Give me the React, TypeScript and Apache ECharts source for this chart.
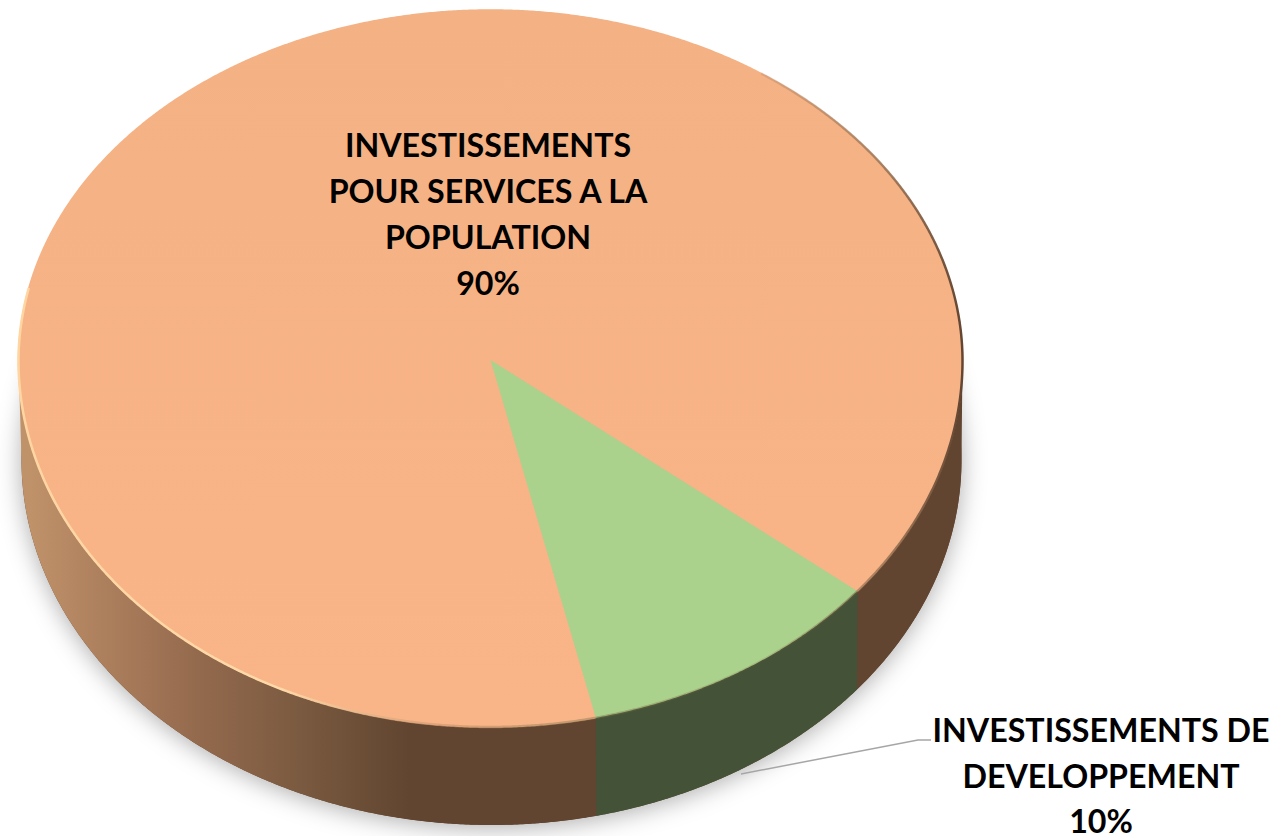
import React, { useEffect, useRef } from "react";
import * as echarts from "echarts";

const categories = ["INVESTISSEMENTS\nPOUR SERVICES A LA\nPOPULATION", "INVESTISSEMENTS DE\nDEVELOPPEMENT"];
const values = [90, 10];

const WIDTH = 1276;
const HEIGHT = 836;
const FIRST_ANGLE = 168.5;
const WARP = 3.55;
const STEP = 0.25;
const FONT = 'bold 32.2px Lato, "Open Sans", sans-serif';

const top = { cx: 490.5, cy: 361, rx: 472, ryUp: 351, ryDown: 366 };
const base = { cx: 491.5, cy: 460, rx: 470, ryUp: 365, ryDown: 365 };

const rad = (d: number) => (d * Math.PI) / 180;
const warp = (a: number) => a + WARP * Math.sin(rad(2 * a));
const onEllipse = (e: typeof top, phi: number): number[] => {
  const c = Math.cos(rad(phi));
  return [e.cx + e.rx * Math.sin(rad(phi)), e.cy - (c > 0 ? e.ryUp : e.ryDown) * c];
};
const isFront = (phi: number) => {
  const m = ((phi % 360) + 360) % 360;
  return m >= 90 && m <= 270;
};
const sweep = (from: number, to: number) => {
  const out: number[] = [];
  for (let a = from; a < to; a += STEP) out.push(a);
  out.push(to);
  return out;
};
const total = values.reduce((s, v) => s + v, 0);

const wallFills = [
  () =>
    new echarts.graphic.LinearGradient(
      30,
      0,
      410,
      0,
      [
        { offset: 0, color: "#c0926a" },
        { offset: 0.24, color: "#a87b5a" },
        { offset: 0.45, color: "#93694d" },
        { offset: 0.71, color: "#7a5a40" },
        { offset: 1, color: "#614530" },
      ],
      true
    ),
  () => "#445238",
];
const orangeTop = () =>
  new echarts.graphic.LinearGradient(
    0,
    10,
    0,
    720,
    [
      { offset: 0, color: "#f4b183" },
      { offset: 1, color: "#f9b588" },
    ],
    true
  );
const topFills = [orangeTop, () => "#abd28c"];
const topStrokes = [orangeTop, () => undefined];

function renderItem(params: any, api: any) {
  const i = params.dataIndex;
  const before = values.slice(0, i).reduce((s, v) => s + v, 0);
  const start = FIRST_ANGLE + (before / total) * 360;
  const end = start + (api.value(0) / total) * 360;
  const angles = sweep(start, end).map(warp);
  const children: any[] = [];

  if (i === 0) {
    children.push({
      type: "polygon",
      shape: { points: sweep(0, 360).map((p) => onEllipse(base, p)) },
      style: { fill: "#614530", shadowBlur: 24, shadowColor: "rgba(0,0,0,0.32)", shadowOffsetY: 3 },
    });
  }

  let run: number[] = [];
  const flush = () => {
    if (run.length > 1) {
      children.push({
        type: "polygon",
        shape: {
          points: [
            ...run.map((p) => onEllipse(top, p)),
            ...run.slice().reverse().map((p) => onEllipse(base, p)),
          ],
        },
        style: { fill: wallFills[i]() },
      });
    }
    run = [];
  };
  angles.forEach((phi) => {
    if (isFront(phi)) run.push(phi);
    else flush();
  });
  flush();

  const stroke = topStrokes[i]();
  children.push({
    type: "polygon",
    shape: { points: [[top.cx, top.cy - 1], ...angles.map((p) => onEllipse(top, p))] },
    style: { fill: topFills[i](), ...(stroke ? { stroke, lineWidth: 1.5 } : {}) },
  });

  if (i === values.length - 1) {
    children.push({
      type: "polyline",
      shape: { points: sweep(35, 282).map((p) => onEllipse(top, p)) },
      style: {
        fill: "none",
        lineWidth: 2.5,
        stroke: new echarts.graphic.LinearGradient(
          18,
          0,
          964,
          0,
          [
            { offset: 0, color: "#ffd6a2" },
            { offset: 0.28, color: "#ffd9a8" },
            { offset: 0.45, color: "rgba(205,150,110,0.6)" },
            { offset: 0.62, color: "rgba(120,110,70,0.4)" },
            { offset: 0.785, color: "rgba(110,85,60,0.15)" },
            { offset: 0.91, color: "rgba(110,85,60,0.55)" },
            { offset: 1, color: "rgba(90,62,44,0.95)" },
          ],
          true
        ),
      },
    });
  }
  return { type: "group", children };
}

const labelStyle = (text: string, lineHeight: number) => ({
  text,
  font: FONT,
  fill: "#000000",
  align: "center",
  verticalAlign: "middle",
  lineHeight,
});

export default function App() {
  const ref = useRef<HTMLDivElement>(null);
  useEffect(() => {
    document.body.style.margin = "0";
    const chart = echarts.init(ref.current!, undefined, { renderer: "svg" });
    chart.setOption({
      animation: false,
      backgroundColor: "#ffffff",
      series: [
        {
          type: "custom",
          coordinateSystem: "none",
          silent: true,
          clip: false,
          data: values.map((v) => [v]),
          encode: { value: 0 },
          renderItem,
        },
      ],
      graphic: [
        {
          type: "polyline",
          z: 10,
          silent: true,
          shape: { points: [[741, 774], [918, 740], [931, 740]] },
          style: { fill: "none", stroke: "#a6a6a6", lineWidth: 1.5 },
        },
        {
          type: "text",
          z: 10,
          silent: true,
          x: 488,
          y: 213.5,
          style: labelStyle(`${categories[0]}\n${values[0]}%`, 45.7),
        },
        {
          type: "text",
          z: 10,
          silent: true,
          x: 1101,
          y: 752.5,
          style: labelStyle(categories[1], 45.7),
        },
        {
          type: "text",
          z: 10,
          silent: true,
          x: 1101,
          y: 820.5,
          style: labelStyle(`${values[1]}%`, 28),
        },
      ],
    });
    return () => chart.dispose();
  }, []);
  return <div ref={ref} style={{ position: "fixed", left: 0, top: 0, width: WIDTH, height: HEIGHT }} />;
}
